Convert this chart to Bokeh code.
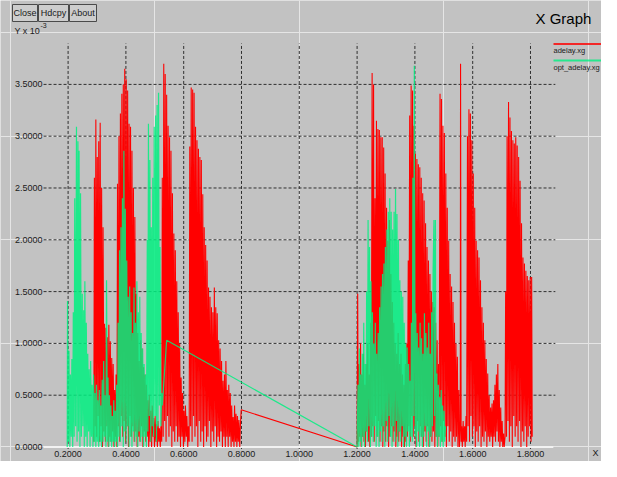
from bokeh.plotting import figure
from bokeh.models import Range1d, Label, BoxAnnotation
from bokeh.core.properties import value
from bokeh.embed import file_html
from bokeh.resources import INLINE

# ---------------- data (delay values, in units of 1e-3) ----------------
x_ticks = [0.2, 0.4, 0.6, 0.8, 1.0, 1.2, 1.4, 1.6, 1.8]
x_tick_labels = ["0.2000", "0.4000", "0.6000", "0.8000", "1.0000",
                 "1.2000", "1.4000", "1.6000", "1.8000"]
y_ticks = [0.0, 0.5, 1.0, 1.5, 2.0, 2.5, 3.0, 3.5]
y_tick_labels = ["0.0000", "0.5000", "1.0000", "1.5000", "2.0000",
                 "2.5000", "3.0000", "3.5000"]
series_names = ["adelay.xg", "opt_adelay.xg"]

# adelay.xg  (time, delay x 1e-3)
adelay = [
    (0.289, 0.05), (0.291, 2.60), (0.294, 0.20), (0.296, 3.16), (0.299, 0.10),
    (0.301, 2.80), (0.304, 0.30), (0.306, 2.95), (0.309, 0.05), (0.311, 3.13),
    (0.314, 0.20), (0.316, 2.50), (0.319, 0.00), (0.321, 2.12), (0.324, 0.15),
    (0.326, 1.19), (0.329, 0.05), (0.331, 1.15), (0.334, 0.20), (0.336, 1.06),
    (0.339, 0.00), (0.341, 1.18), (0.344, 0.10), (0.346, 1.02), (0.349, 0.05),
    (0.351, 0.86), (0.354, 0.15), (0.356, 0.80), (0.359, 0.00), (0.361, 0.55),
    (0.364, 0.10), (0.366, 0.70), (0.369, 0.00),
    (0.371, 2.54), (0.374, 0.20), (0.376, 3.00), (0.379, 0.05), (0.381, 3.22),
    (0.384, 0.30), (0.386, 3.41), (0.389, 0.10), (0.391, 3.50), (0.394, 0.25),
    (0.396, 3.65), (0.399, 0.05), (0.401, 3.55), (0.404, 0.20), (0.406, 3.44),
    (0.409, 0.00), (0.411, 3.12), (0.414, 0.30), (0.416, 3.09), (0.419, 0.10),
    (0.421, 2.86), (0.424, 0.20), (0.426, 2.50), (0.429, 0.05), (0.431, 2.22),
    (0.434, 0.15), (0.436, 1.48), (0.439, 0.00), (0.441, 1.10), (0.444, 0.10),
    (0.446, 0.83), (0.449, 0.05), (0.451, 1.03), (0.454, 0.20), (0.456, 0.95),
    (0.459, 0.00), (0.461, 0.77), (0.464, 0.15), (0.466, 0.70), (0.469, 0.05),
    (0.471, 0.60), (0.474, 0.10), (0.476, 0.45), (0.479, 0.00), (0.481, 0.50),
    (0.484, 0.05), (0.486, 0.35), (0.489, 0.00), (0.491, 0.40), (0.494, 0.10),
    (0.496, 0.28), (0.499, 0.00), (0.501, 0.30), (0.504, 0.05), (0.506, 0.22),
    (0.509, 0.00), (0.511, 0.25), (0.514, 0.05), (0.516, 0.18), (0.519, 0.00),
    (0.521, 0.20), (0.524, 0.05),
    (0.526, 2.60), (0.529, 0.10), (0.531, 3.70), (0.534, 0.25), (0.536, 3.60),
    (0.539, 0.05), (0.541, 3.40), (0.544, 0.30), (0.546, 3.10), (0.549, 0.10),
    (0.551, 2.99), (0.554, 0.20), (0.556, 2.86), (0.559, 0.00), (0.561, 2.45),
    (0.564, 0.15), (0.566, 2.06), (0.569, 0.05), (0.571, 1.90), (0.574, 0.20),
    (0.576, 1.60), (0.579, 0.05), (0.581, 1.30), (0.584, 0.10), (0.586, 1.00),
    (0.589, 0.00), (0.591, 0.67), (0.594, 0.10), (0.596, 0.52), (0.599, 0.00),
    (0.601, 0.35), (0.604, 0.05), (0.606, 0.40), (0.609, 0.10), (0.611, 0.30),
    (0.614, 0.00), (0.616, 0.20), (0.619, 0.05),
    (0.621, 2.90), (0.624, 0.20), (0.626, 3.47), (0.629, 0.05), (0.631, 3.45),
    (0.634, 0.30), (0.636, 3.42), (0.639, 0.10), (0.641, 3.09), (0.644, 0.20),
    (0.646, 2.96), (0.649, 0.00), (0.651, 2.88), (0.654, 0.25), (0.656, 2.80),
    (0.659, 0.05), (0.661, 2.77), (0.664, 0.15), (0.666, 2.44), (0.669, 0.00),
    (0.671, 2.12), (0.674, 0.20), (0.676, 1.95), (0.679, 0.05), (0.681, 1.80),
    (0.684, 0.10), (0.686, 1.54), (0.689, 0.25), (0.691, 1.45), (0.694, 0.00),
    (0.696, 1.35), (0.699, 0.15), (0.701, 1.30), (0.704, 0.05), (0.706, 1.54),
    (0.709, 0.20), (0.711, 1.35), (0.714, 0.00), (0.716, 1.29), (0.719, 0.10),
    (0.721, 1.03), (0.724, 0.05), (0.726, 0.95), (0.729, 0.15), (0.731, 0.83),
    (0.734, 0.00), (0.736, 0.64), (0.739, 0.10), (0.741, 0.70), (0.744, 0.00),
    (0.746, 0.83), (0.749, 0.10), (0.751, 0.55), (0.754, 0.00), (0.756, 0.60),
    (0.759, 0.10), (0.761, 0.52), (0.764, 0.00), (0.766, 0.40), (0.769, 0.05),
    (0.771, 0.29), (0.774, 0.00), (0.776, 0.40), (0.779, 0.05), (0.781, 0.32),
    (0.784, 0.00), (0.786, 0.30), (0.789, 0.05), (0.791, 0.26), (0.794, 0.00),
    (0.796, 0.20), (0.799, 0.36),
    (1.200, 0.00), (1.202, 1.48), (1.204, 0.05), (1.207, 0.80), (1.209, 0.10),
    (1.212, 1.00), (1.214, 0.00), (1.217, 0.70), (1.219, 0.10), (1.222, 0.90),
    (1.224, 0.05), (1.227, 0.60), (1.229, 0.00), (1.232, 0.80), (1.234, 0.15),
    (1.237, 1.00), (1.239, 0.05), (1.242, 0.70), (1.244, 0.00), (1.247, 1.20),
    (1.249, 0.10), (1.252, 3.61), (1.254, 0.20), (1.257, 3.50), (1.259, 0.05),
    (1.262, 2.40), (1.264, 0.30), (1.267, 3.15), (1.269, 0.10), (1.272, 3.07),
    (1.274, 0.25), (1.277, 3.06), (1.279, 0.05), (1.282, 2.99), (1.284, 0.20),
    (1.287, 2.99), (1.289, 0.00), (1.292, 2.89), (1.294, 0.15), (1.297, 2.64),
    (1.299, 0.05), (1.302, 2.31), (1.304, 0.20), (1.307, 1.99), (1.309, 0.00),
    (1.312, 2.19), (1.314, 0.10), (1.317, 1.67), (1.319, 0.20), (1.322, 1.40),
    (1.324, 0.05), (1.327, 1.20), (1.329, 0.15), (1.332, 1.00), (1.334, 0.00),
    (1.337, 0.90), (1.339, 0.10), (1.342, 1.10), (1.344, 0.05), (1.347, 0.80),
    (1.349, 0.15), (1.352, 0.90), (1.354, 0.00), (1.357, 0.70), (1.359, 0.10),
    (1.362, 0.60), (1.364, 0.00), (1.367, 0.80), (1.369, 0.05), (1.372, 1.00),
    (1.374, 0.10), (1.377, 1.80), (1.379, 0.20), (1.382, 3.20), (1.384, 0.05),
    (1.387, 3.49), (1.389, 0.30), (1.392, 3.44), (1.394, 0.10), (1.397, 3.10),
    (1.399, 0.20), (1.402, 2.83), (1.404, 0.00), (1.407, 2.78), (1.409, 0.25),
    (1.412, 2.73), (1.414, 0.05), (1.417, 2.70), (1.419, 0.20), (1.422, 2.60),
    (1.424, 0.10), (1.427, 2.45), (1.429, 0.00), (1.432, 2.38), (1.434, 0.15),
    (1.437, 2.16), (1.439, 0.05), (1.442, 1.93), (1.444, 0.20), (1.447, 1.80),
    (1.449, 0.00), (1.452, 1.67), (1.454, 0.10), (1.457, 1.50), (1.459, 0.05),
    (1.462, 1.40), (1.464, 0.15), (1.467, 1.35), (1.469, 0.00), (1.472, 1.20),
    (1.474, 0.10), (1.477, 1.03), (1.479, 0.00), (1.482, 0.80), (1.484, 0.10),
    (1.487, 3.41), (1.489, 0.20), (1.492, 3.36), (1.494, 0.05), (1.497, 3.10),
    (1.499, 0.25), (1.502, 3.03), (1.504, 0.10), (1.507, 2.64), (1.509, 0.00),
    (1.512, 2.31), (1.514, 0.20), (1.517, 1.99), (1.519, 0.05), (1.522, 1.67),
    (1.524, 0.15), (1.527, 1.55), (1.529, 0.00), (1.532, 1.40), (1.534, 0.10),
    (1.537, 1.20), (1.539, 0.05), (1.542, 1.00), (1.544, 0.10), (1.547, 0.87),
    (1.549, 0.00), (1.552, 0.55), (1.554, 0.00), (1.557, 0.23), (1.558, 3.70),
    (1.560, 0.05), (1.562, 0.20), (1.564, 0.00), (1.567, 0.25), (1.569, 0.05),
    (1.572, 0.20), (1.574, 0.00), (1.577, 0.30), (1.579, 0.05), (1.582, 3.00),
    (1.584, 0.20), (1.587, 3.26), (1.589, 0.05), (1.592, 3.22), (1.594, 0.30),
    (1.597, 2.96), (1.599, 0.10), (1.602, 2.64), (1.604, 0.20), (1.607, 2.31),
    (1.609, 0.00), (1.612, 1.99), (1.614, 0.15), (1.617, 1.90), (1.619, 0.05),
    (1.622, 1.83), (1.624, 0.20), (1.627, 1.61), (1.629, 0.00), (1.632, 1.35),
    (1.634, 0.10), (1.637, 1.20), (1.639, 0.05), (1.642, 1.03), (1.644, 0.15),
    (1.647, 0.85), (1.649, 0.00), (1.652, 0.71), (1.654, 0.10), (1.657, 0.50),
    (1.659, 0.05), (1.662, 0.38), (1.664, 0.10), (1.667, 0.42), (1.669, 0.00),
    (1.672, 0.45), (1.674, 0.10), (1.677, 0.60), (1.679, 0.05), (1.682, 0.70),
    (1.684, 0.15), (1.687, 0.80), (1.689, 0.05), (1.692, 0.55), (1.694, 0.00),
    (1.697, 0.38), (1.699, 0.05), (1.702, 0.25), (1.704, 0.00), (1.707, 0.13),
    (1.709, 0.00), (1.712, 0.10), (1.714, 1.50), (1.717, 0.10), (1.719, 3.00),
    (1.722, 0.25), (1.724, 3.33), (1.727, 0.05), (1.729, 3.18), (1.732, 0.20),
    (1.734, 3.05), (1.737, 0.00), (1.739, 2.96), (1.742, 0.30), (1.744, 2.93),
    (1.747, 0.10), (1.749, 2.99), (1.752, 0.20), (1.754, 2.91), (1.757, 0.05),
    (1.759, 2.80), (1.762, 0.25), (1.764, 2.57), (1.767, 0.00), (1.769, 2.16),
    (1.772, 0.15), (1.774, 1.83), (1.777, 0.05), (1.779, 1.77), (1.782, 0.20),
    (1.784, 1.70), (1.787, 0.00), (1.789, 1.65), (1.792, 0.10), (1.794, 1.61),
    (1.797, 0.20), (1.799, 1.64), (1.802, 0.05), (1.804, 1.64), (1.806, 0.10),
]

# opt_adelay.xg  (time, delay x 1e-3)
opt_adelay = [
    (0.197, 0.00), (0.198, 1.41), (0.201, 0.05), (0.203, 0.93), (0.206, 0.00),
    (0.208, 0.70), (0.211, 0.10), (0.213, 0.85), (0.216, 0.00), (0.218, 1.30),
    (0.221, 0.10), (0.223, 2.40), (0.226, 0.20), (0.229, 3.09), (0.231, 0.05),
    (0.234, 2.95), (0.236, 0.15), (0.238, 2.86), (0.241, 0.00), (0.243, 2.45),
    (0.246, 0.10), (0.249, 1.48), (0.251, 0.20), (0.254, 1.32), (0.256, 0.00),
    (0.258, 1.60), (0.261, 0.10), (0.263, 1.20), (0.266, 0.00), (0.268, 0.90),
    (0.271, 0.15), (0.273, 0.75), (0.276, 0.00), (0.278, 0.83), (0.281, 0.10),
    (0.283, 0.60), (0.286, 0.00), (0.288, 0.70), (0.291, 0.05), (0.293, 0.52),
    (0.296, 0.00), (0.298, 0.60), (0.301, 0.05), (0.303, 0.45), (0.306, 0.00),
    (0.308, 0.55), (0.311, 0.05), (0.313, 0.40), (0.316, 0.00), (0.318, 0.65),
    (0.321, 0.05), (0.323, 0.83), (0.326, 0.10), (0.328, 0.50), (0.331, 0.00),
    (0.333, 1.61), (0.336, 0.05), (0.338, 0.67), (0.341, 0.00), (0.343, 0.50),
    (0.346, 0.05), (0.348, 0.40), (0.351, 0.00), (0.353, 0.30), (0.356, 0.05),
    (0.358, 0.45), (0.361, 0.00), (0.363, 0.35), (0.366, 0.05), (0.368, 0.60),
    (0.371, 0.00), (0.373, 1.20), (0.376, 0.10), (0.378, 1.90), (0.381, 0.05),
    (0.383, 2.12), (0.386, 0.20), (0.388, 2.40), (0.391, 0.00), (0.393, 2.86),
    (0.396, 0.15), (0.398, 2.30), (0.401, 0.05), (0.403, 1.80), (0.406, 0.20),
    (0.408, 1.45), (0.411, 0.00), (0.413, 1.55), (0.416, 0.10), (0.418, 1.30),
    (0.421, 0.00), (0.423, 1.10), (0.426, 0.15), (0.428, 1.54), (0.431, 0.05),
    (0.433, 1.20), (0.436, 0.10), (0.438, 1.60), (0.441, 0.00), (0.443, 1.30),
    (0.446, 0.15), (0.448, 1.45), (0.451, 0.05), (0.453, 1.10), (0.456, 0.10),
    (0.458, 0.95), (0.461, 0.00), (0.463, 0.80), (0.466, 0.10), (0.468, 0.70),
    (0.471, 0.00), (0.474, 2.00), (0.476, 0.15), (0.478, 3.12), (0.481, 0.30),
    (0.483, 2.77), (0.486, 0.05), (0.488, 2.12), (0.491, 0.20), (0.493, 2.60),
    (0.496, 0.10), (0.498, 3.09), (0.501, 0.30), (0.503, 3.20), (0.506, 0.05),
    (0.508, 3.30), (0.511, 0.20), (0.513, 3.42), (0.516, 0.40), (0.518, 1.93),
    (0.521, 0.20), (0.524, 0.52), (0.526, 0.40), (0.541, 1.03),
    (1.200, 0.00), (1.203, 0.60), (1.206, 0.00), (1.208, 0.95), (1.211, 0.05),
    (1.213, 0.70), (1.216, 0.00), (1.218, 0.90), (1.221, 0.10), (1.223, 1.20),
    (1.226, 0.00), (1.228, 0.80), (1.231, 0.15), (1.233, 1.50), (1.236, 0.05),
    (1.238, 2.19), (1.241, 0.20), (1.243, 1.93), (1.246, 0.00), (1.248, 1.60),
    (1.251, 0.10), (1.253, 1.30), (1.256, 0.05), (1.258, 1.00), (1.261, 0.20),
    (1.263, 1.20), (1.266, 0.00), (1.268, 0.90), (1.271, 0.10), (1.273, 1.10),
    (1.276, 0.00), (1.278, 1.35), (1.281, 0.15), (1.283, 1.55), (1.286, 0.05),
    (1.288, 1.67), (1.291, 0.20), (1.293, 1.77), (1.296, 0.00), (1.298, 1.93),
    (1.301, 0.25), (1.303, 2.10), (1.306, 0.05), (1.308, 2.27), (1.311, 0.30),
    (1.313, 2.40), (1.316, 0.10), (1.318, 2.27), (1.321, 0.00), (1.323, 2.10),
    (1.326, 0.20), (1.328, 2.27), (1.331, 0.05), (1.333, 2.49), (1.336, 0.25),
    (1.338, 2.25), (1.341, 0.00), (1.343, 2.00), (1.346, 0.15), (1.348, 1.61),
    (1.351, 0.05), (1.353, 1.50), (1.356, 0.20), (1.358, 1.45), (1.361, 0.00),
    (1.363, 1.20), (1.366, 0.10), (1.368, 1.00), (1.371, 0.00), (1.373, 0.96),
    (1.376, 0.15), (1.378, 0.80), (1.381, 0.00), (1.383, 0.64), (1.386, 0.10),
    (1.388, 1.20), (1.391, 0.05), (1.393, 2.60), (1.396, 0.30), (1.398, 3.68),
    (1.401, 0.10), (1.403, 1.29), (1.406, 0.00), (1.408, 1.10), (1.411, 0.15),
    (1.413, 0.96), (1.416, 0.00), (1.418, 1.20), (1.421, 0.10), (1.423, 1.05),
    (1.426, 0.00), (1.428, 0.90), (1.431, 0.10), (1.433, 1.29), (1.436, 0.20),
    (1.438, 1.10), (1.441, 0.00), (1.443, 0.96), (1.446, 0.15), (1.448, 1.20),
    (1.451, 0.00), (1.453, 0.90), (1.456, 0.10), (1.458, 1.30), (1.461, 0.20),
    (1.463, 1.70), (1.466, 2.19), (1.468, 0.30), (1.471, 2.19), (1.473, 0.10),
    (1.476, 0.71), (1.478, 0.00), (1.481, 0.60), (1.483, 0.10), (1.486, 0.48),
    (1.488, 0.00), (1.491, 0.55), (1.493, 0.05), (1.496, 0.40), (1.498, 0.00),
    (1.501, 0.35), (1.503, 0.05), (1.506, 0.20),
]

# ---------------- styling ----------------
BG = "#c2c2c2"
RED = "#ff0000"
GREEN = "#00f080"
GRID = "#303030"
TXT = "#1a1a1a"
FONT = "Liberation Sans"

W, H = 601, 461
# extents of the xgraph data window (grid lines), in data units
GX0, GX1 = 0.115, 1.886
GY0, GY1 = -0.019, 3.895
ZX1 = 1.879
XLAB_Y = -0.072

p = figure(width=W, height=H,
           x_range=Range1d(-0.0339, 2.0457), y_range=Range1d(-0.140, 4.3098),
           output_backend="svg", toolbar_location=None, tools="",
           x_axis_location=None, y_axis_location=None,
           min_border=0, min_border_left=0, min_border_right=0,
           min_border_top=0, min_border_bottom=0,
           background_fill_color=BG, border_fill_color=BG,
           outline_line_color=None)

# grid
hy = y_ticks[1:]
p.segment(x0=[GX0] * len(hy), y0=hy, x1=[GX1] * len(hy), y1=hy,
          line_color=GRID, line_width=1, line_dash="3 2")
p.segment(x0=x_ticks, y0=[GY0] * len(x_ticks), x1=x_ticks, y1=[GY1] * len(x_ticks),
          line_color=GRID, line_width=1, line_dash="3 2")
# zero axis
p.segment(x0=[GX0], y0=[y_ticks[0]], x1=[ZX1], y1=[y_ticks[0]],
          line_color="#f2f2f2", line_width=2)

# data
rx = [a for a, _ in adelay]
ry = [b for _, b in adelay]
gx = [a for a, _ in opt_adelay]
gy = [b for _, b in opt_adelay]
p.line(rx, ry, line_color=RED, line_width=1.1)
p.line(gx, gy, line_color=GREEN, line_width=1.2, line_alpha=0.85)

# tick labels
p.text(x=[GX0] * len(y_ticks), y=y_ticks, text=y_tick_labels,
       text_font=value(FONT), text_font_size="9px", text_color=TXT,
       text_align="right", text_baseline="middle", x_offset=-1)
p.text(x=x_ticks, y=[XLAB_Y] * len(x_ticks), text=x_tick_labels,
       text_font=value(FONT), text_font_size="9px", text_color=TXT,
       text_align="center", text_baseline="middle")

def lab(x, y, text, size, align="left", color=TXT):
    p.add_layout(Label(x=x, y=y, x_units="screen", y_units="screen", text=text,
                       text_font=FONT, text_font_size=size, text_color=color,
                       text_align=align, text_baseline="middle"))

# axis unit labels
lab(14, 431, "Y x 10", "9px")
lab(40, 436, "-3", "7px")
lab(598, 9, "X", "9px", align="right")

# title
lab(535, 443, "X Graph", "15px", color="#000000")

# buttons
buttons = [("Close", 12, 37), ("Hdcpy", 38, 68), ("About", 69, 96)]
for name, l, r in buttons:
    p.add_layout(BoxAnnotation(left=l, right=r, bottom=440, top=457,
                               left_units="screen", right_units="screen",
                               bottom_units="screen", top_units="screen",
                               fill_color="#cdcdcd", fill_alpha=1,
                               line_color="#4a4a4a", line_alpha=1, line_width=1))
    lab((l + r) / 2, 448.5, name, "9px", align="center")

# legend (xgraph style: line above name)
for i, (name, col) in enumerate(zip(series_names, [RED, GREEN])):
    top = 418.5 - i * 16.5
    p.add_layout(BoxAnnotation(left=553, right=601, bottom=top - 2, top=top,
                               left_units="screen", right_units="screen",
                               bottom_units="screen", top_units="screen",
                               fill_color=col, fill_alpha=0.8, line_color=None))
    lab(553, top - 7.5, name, "7.5px")

open("out.html", "w").write(file_html(p, INLINE))
